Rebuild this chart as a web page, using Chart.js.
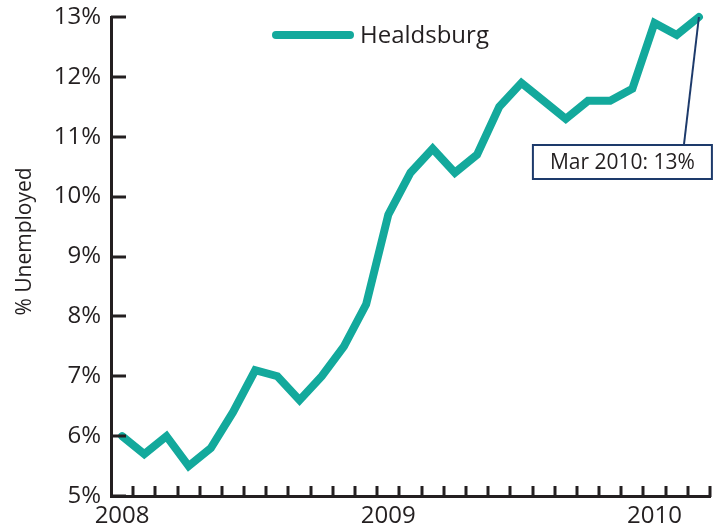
<!DOCTYPE html>
<html>
<head>
<meta charset="utf-8">
<script src="https://cdn.jsdelivr.net/npm/chart.js@4.4.0/dist/chart.umd.min.js"></script>
<style>
  html, body { margin: 0; padding: 0; background: #fff; overflow: hidden; }
  #wrap { width: 721px; height: 529px; position: relative; }
</style>
</head>
<body>
<div id="wrap"><canvas id="unempChart" width="721" height="529"></canvas></div>
<script>
const months = [
  "Jan 2008", "Feb 2008", "Mar 2008", "Apr 2008", "May 2008", "Jun 2008",
  "Jul 2008", "Aug 2008", "Sep 2008", "Oct 2008", "Nov 2008", "Dec 2008",
  "Jan 2009", "Feb 2009", "Mar 2009", "Apr 2009", "May 2009", "Jun 2009",
  "Jul 2009", "Aug 2009", "Sep 2009", "Oct 2009", "Nov 2009", "Dec 2009",
  "Jan 2010", "Feb 2010", "Mar 2010",
];
const healdsburg = [
  6.0, 5.7, 6.0, 5.5, 5.8, 6.4, 7.1, 7.0, 6.6, 7.0, 7.5, 8.2,
  9.7, 10.4, 10.8, 10.4, 10.7, 11.5, 11.9, 11.6, 11.3, 11.6, 11.6, 11.8,
  12.9, 12.7, 13.0,
];
const seriesName = "Healdsburg";
const yTitle = "% Unemployed";
const yMin = 5;
const yMax = 13;
const calloutText = "Mar 2010: 13%";

const FONT = "'Open Sans', 'Noto Sans', sans-serif";
const TEXT = "#231f20";
const TEAL = "#13a99c";
const NAVY = "#1d3a6b";

// tick marks pointing into the plot, like the original
const tickMarks = {
  id: "tickMarks",
  afterDraw(chart) {
    const ctx = chart.ctx;
    const x = chart.scales.x;
    const y = chart.scales.y;
    const area = chart.chartArea;
    ctx.save();
    ctx.strokeStyle = TEXT;
    ctx.lineWidth = 3;
    ctx.lineCap = "butt";
    const n = x.getLabels().length;
    const step = (x.right - x.left) / n;
    for (let i = 1; i <= n; i++) {
      const px = Math.round(x.left + i * step);
      ctx.beginPath();
      ctx.moveTo(px, area.bottom + 1);
      ctx.lineTo(px, area.bottom - 10);
      ctx.stroke();
    }
    y.ticks.forEach((t) => {
      const py = Math.round(y.getPixelForValue(t.value));
      ctx.beginPath();
      ctx.moveTo(area.left, py);
      ctx.lineTo(area.left + 15, py);
      ctx.stroke();
    });
    // y axis title, sits a bit above the middle in the original
    ctx.fillStyle = TEXT;
    ctx.font = "21px " + FONT;
    ctx.textAlign = "center";
    ctx.textBaseline = "middle";
    ctx.translate(25, (area.top + area.bottom) / 2 - 15);
    ctx.rotate(-Math.PI / 2);
    ctx.fillText(yTitle, 0, 0);
    ctx.restore();
  },
};

// legend drawn inside the plot area
const insideLegend = {
  id: "insideLegend",
  afterDraw(chart) {
    const ctx = chart.ctx;
    const ds = chart.data.datasets[0];
    ctx.save();
    ctx.strokeStyle = ds.borderColor;
    ctx.lineWidth = 8;
    ctx.lineCap = "round";
    ctx.beginPath();
    ctx.moveTo(276, 35);
    ctx.lineTo(350, 35);
    ctx.stroke();
    ctx.fillStyle = TEXT;
    ctx.font = "24px " + FONT;
    ctx.textBaseline = "middle";
    ctx.textAlign = "left";
    ctx.fillText(ds.label, 360, 36);
    ctx.restore();
  },
};

// callout for the last point
const callout = {
  id: "callout",
  afterDraw(chart) {
    const ctx = chart.ctx;
    const meta = chart.getDatasetMeta(0);
    const pt = meta.data[meta.data.length - 1];
    const boxW = 179, boxH = 34;
    const bx = pt.x - 166, by = pt.y + 128;
    ctx.save();
    ctx.strokeStyle = NAVY;
    ctx.lineWidth = 2;
    ctx.beginPath();
    ctx.moveTo(pt.x, pt.y);
    ctx.lineTo(pt.x - 15, by);
    ctx.stroke();
    ctx.fillStyle = "#fff";
    ctx.fillRect(bx, by, boxW, boxH);
    ctx.strokeRect(bx, by, boxW, boxH);
    ctx.fillStyle = TEXT;
    ctx.font = "21px " + FONT;
    ctx.textAlign = "center";
    ctx.textBaseline = "middle";
    ctx.fillText(calloutText, bx + boxW / 2, by + boxH / 2 + 1);
    ctx.restore();
  },
};

window.onload = function () {
  const ctx = document.getElementById("unempChart").getContext("2d");

  new Chart(ctx, {
    type: "line",
    data: {
      labels: months,
      datasets: [
        {
          label: seriesName,
          data: healdsburg,
          borderColor: TEAL,
          backgroundColor: TEAL,
          borderWidth: 8,
          borderCapStyle: "round",
          borderJoinStyle: "miter",
          pointRadius: 0,
          tension: 0,
          clip: false,
        },
      ],
    },
    options: {
      responsive: false,
      animation: false,
      layout: { padding: { top: 17, right: 11, left: 0, bottom: 0 } },
      plugins: {
        legend: { display: false },
        tooltip: { enabled: false },
      },
      scales: {
        x: {
          type: "category",
          offset: true,
          grid: { display: false, drawTicks: false, offset: true },
          border: { display: true, color: TEXT, width: 3 },
          ticks: {
            autoSkip: false,
            maxRotation: 0,
            padding: 6,
            color: TEXT,
            font: { family: FONT, size: 24 },
            callback: function (value, index) {
              const lab = this.getLabelForValue(value);
              return lab.startsWith("Jan") ? lab.split(" ")[1] : "";
            },
          },
          afterFit: function (scale) {
            scale.height = 33;
            scale.paddingLeft = 0;
            scale.paddingRight = 0;
          },
        },
        y: {
          min: yMin,
          max: yMax,
          grid: { display: false, drawTicks: false },
          border: { display: true, color: TEXT, width: 3 },
          ticks: {
            stepSize: 1,
            padding: 10,
            color: TEXT,
            font: { family: FONT, size: 24 },
            callback: function (value) {
              return value + "%";
            },
          },
          afterFit: function (scale) {
            scale.width = 111;
            scale.paddingTop = 0;
            scale.paddingBottom = 0;
          },
        },
      },
    },
    plugins: [tickMarks, insideLegend, callout],
  });
};
</script>
</body>
</html>
